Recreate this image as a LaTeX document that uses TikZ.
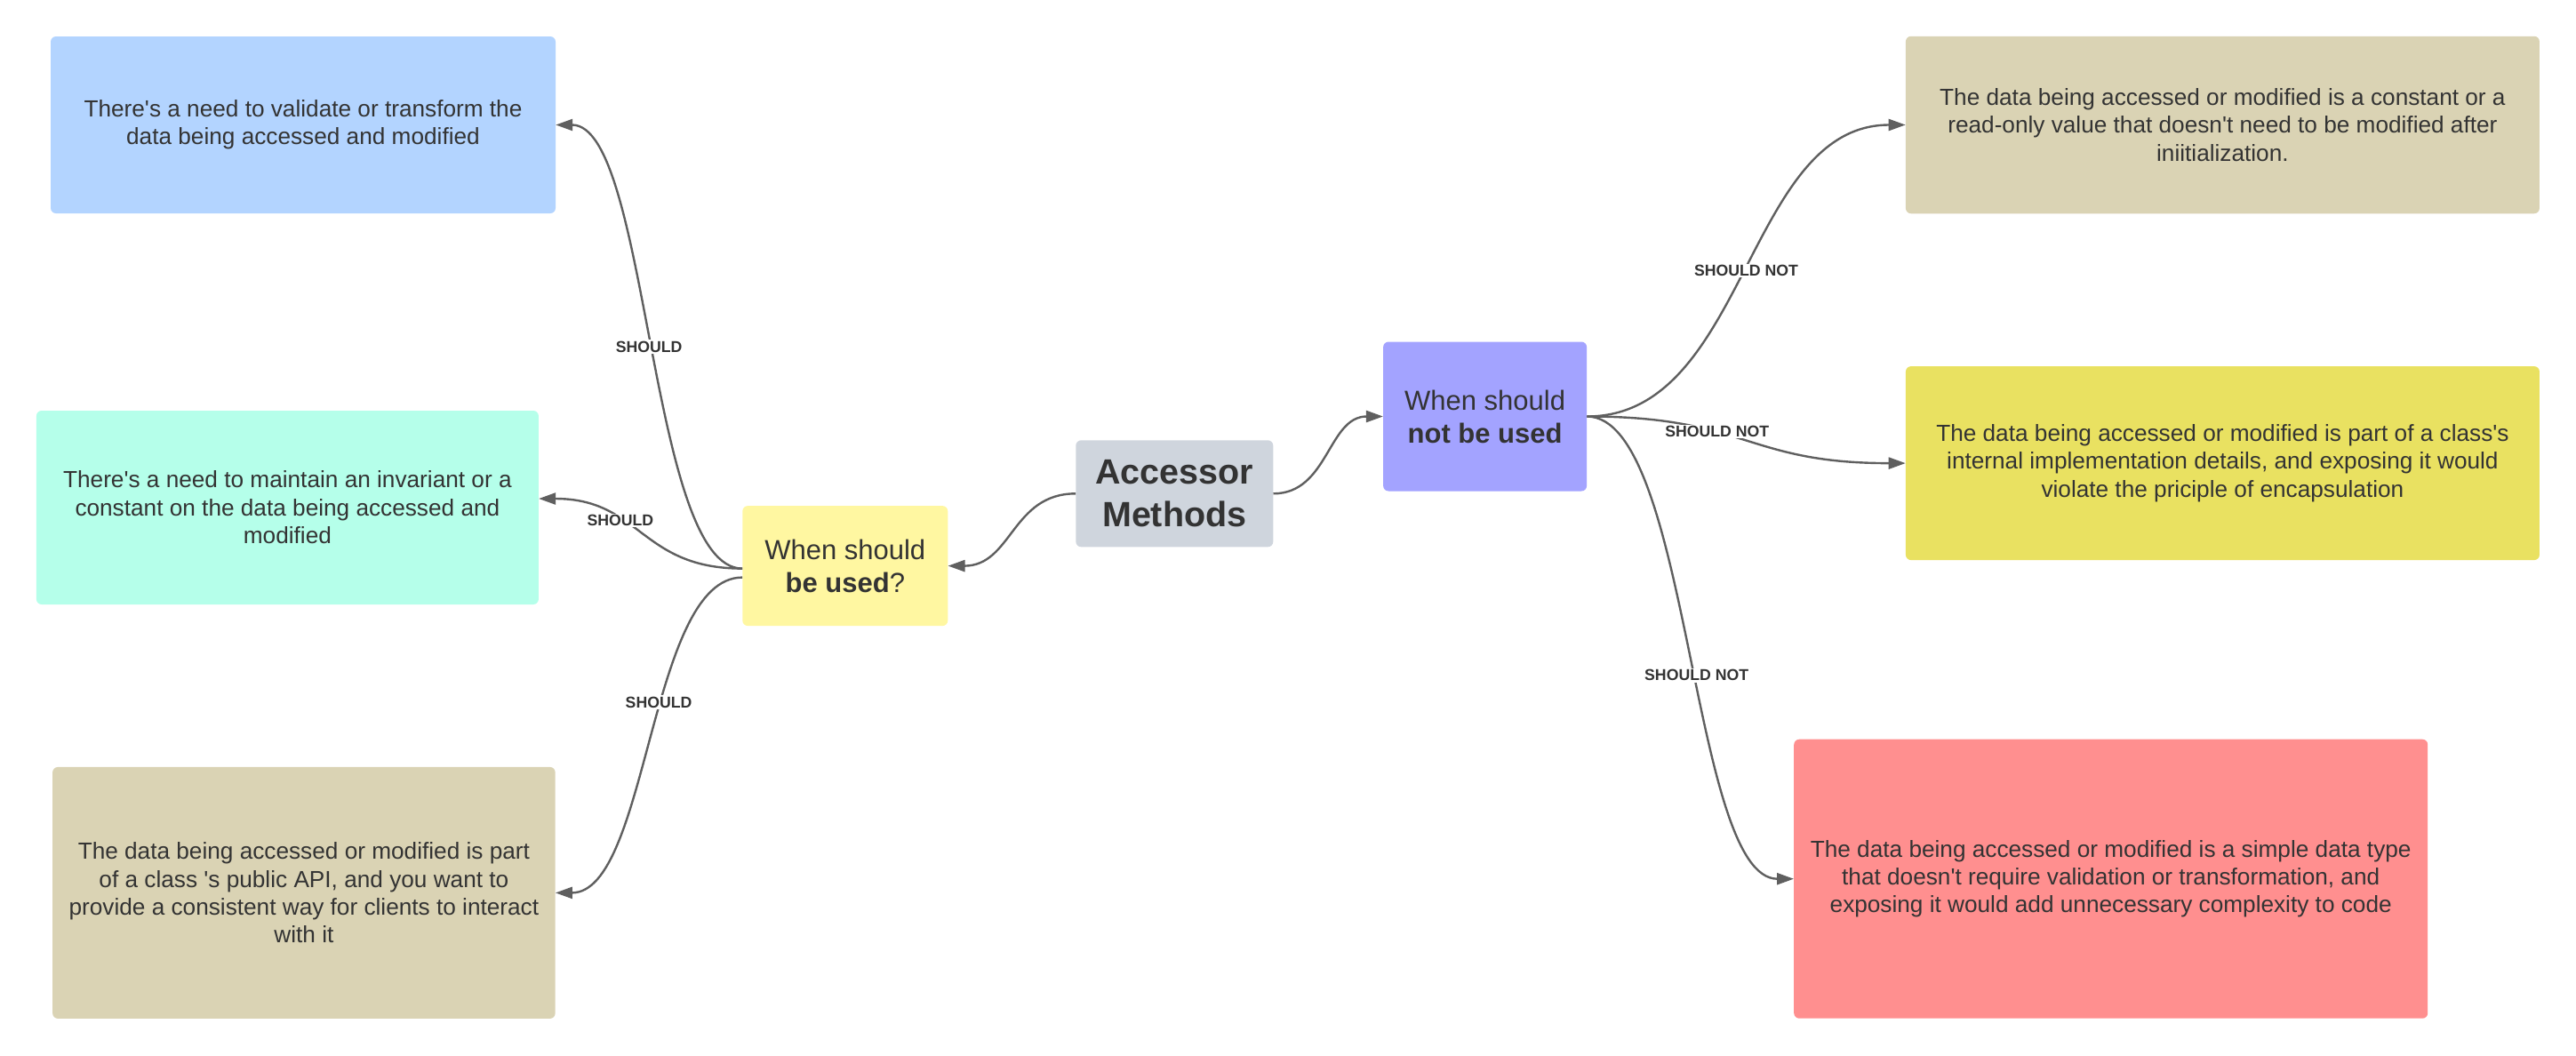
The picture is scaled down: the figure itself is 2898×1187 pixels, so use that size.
\documentclass[tikz,border=0pt]{standalone}
\usepackage{fontspec}
\setmainfont{Liberation Sans}
\usetikzlibrary{arrows.meta}
\definecolor{cA}{HTML}{B3D4FF}
\definecolor{cB}{HTML}{B5FFEA}
\definecolor{cTan}{HTML}{DAD3B4}
\definecolor{cYel}{HTML}{FFF7A1}
\definecolor{cGray}{HTML}{CFD5DD}
\definecolor{cPur}{HTML}{A3A3FF}
\definecolor{cE}{HTML}{E9E161}
\definecolor{cF}{HTML}{FF8F8F}
\definecolor{txt}{HTML}{333333}
\definecolor{ln}{HTML}{5F5F5F}
\newcommand\sq{\textquotesingle}
\begin{document}
\begin{tikzpicture}[x=1pt,y=-1pt,
  box/.style={rounded corners=6pt, align=center, text=txt, inner sep=0pt,
    font=\fontsize{26.2}{31.4}\selectfont},
  mid/.style={rounded corners=6pt, align=center, text=txt, inner sep=0pt,
    font=\fontsize{31}{37}\selectfont},
  conn/.style={draw=ln, line width=2.4pt, -{Triangle[length=19pt,width=13pt]}},
  lbl/.style={fill=white, text=txt, inner sep=1.5pt, font=\fontsize{17.7}{21}\selectfont\bfseries}]
\useasboundingbox (0,0) rectangle (2898,1187);

\node[box, fill=cA, minimum width=568pt, minimum height=199pt] (A) at (341,140.5)
  {There\sq s a need to validate or transform the\\data being accessed and modified};
\node[box, fill=cB, minimum width=565pt, minimum height=218pt] (B) at (323.4,571)
  {There\sq s a need to maintain an invariant or a\\constant on the data being accessed and\\modified};
\node[box, fill=cTan, minimum width=565.5pt, minimum height=283pt] (C) at (341.9,1004.4)
  {The data being accessed or modified is part\\of a class \sq s public API, and you want to\\provide a consistent way for clients to interact\\with it};

\node[mid, fill=cYel, minimum width=231pt, minimum height=135pt] (Y) at (950.8,636.6)
  {When should\\\textbf{be used}?};
\node[rounded corners=6pt, align=center, text=txt, inner sep=0pt, fill=cGray,
  minimum width=222pt, minimum height=120pt, font=\fontsize{39.5}{48}\selectfont\bfseries] (M) at (1321.3,555.3)
  {Accessor\\Methods};
\node[mid, fill=cPur, minimum width=229pt, minimum height=168pt] (P) at (1670.6,468.5)
  {When should\\\textbf{not be used}};

\node[box, fill=cTan, minimum width=713pt, minimum height=199.5pt] (D) at (2500.4,140.5)
  {The data being accessed or modified is a constant or a\\read-only value that doesn\sq t need to be modified after\\iniitialization.};
\node[box, fill=cE, minimum width=713pt, minimum height=218pt] (E) at (2500.4,521.1)
  {The data being accessed or modified is part of a class\sq s\\internal implementation details, and exposing it would\\violate the priciple of encapsulation};
\node[box, fill=cF, minimum width=713pt, minimum height=314pt] (F) at (2374.7,988.7)
  {The data being accessed or modified is a simple data type\\that doesn\sq t require validation or transformation, and\\exposing it would add unnecessary complexity to code};

% centre connectors
\draw[conn] (M.west) .. controls +(-72,0) and +(72,0) .. (Y.east);
\draw[conn] (M.east) .. controls +(62,0) and +(-62,0) .. (P.west);

% left connectors
\draw[conn] ([yshift=-3pt]Y.west) .. controls +(-105,0) and +(105,0) .. (A.east)
  node[lbl, pos=0.5] {SHOULD};
\draw[conn] ([yshift=-3pt]Y.west) .. controls +(-115,0) and +(115,0) .. ([yshift=10pt]B.east)
  node[lbl, pos=0.63] {SHOULD};
\draw[conn] ([yshift=-13pt]Y.west) .. controls +(-105,0) and +(105,0) .. (C.east)
  node[lbl, pos=0.43] {SHOULD};

% right connectors
\draw[conn] (P.east) .. controls +(180,0) and +(-180,0) .. (D.west)
  node[lbl, pos=0.5] {SHOULD NOT};
\draw[conn] (P.east) .. controls +(180,0) and +(-180,0) .. (E.west)
  node[lbl, pos=0.38] {SHOULD NOT};
\draw[conn] (P.east) .. controls +(116,0) and +(-116,0) .. (F.west)
  node[lbl, pos=0.54] {SHOULD NOT};
\end{tikzpicture}
\end{document}
